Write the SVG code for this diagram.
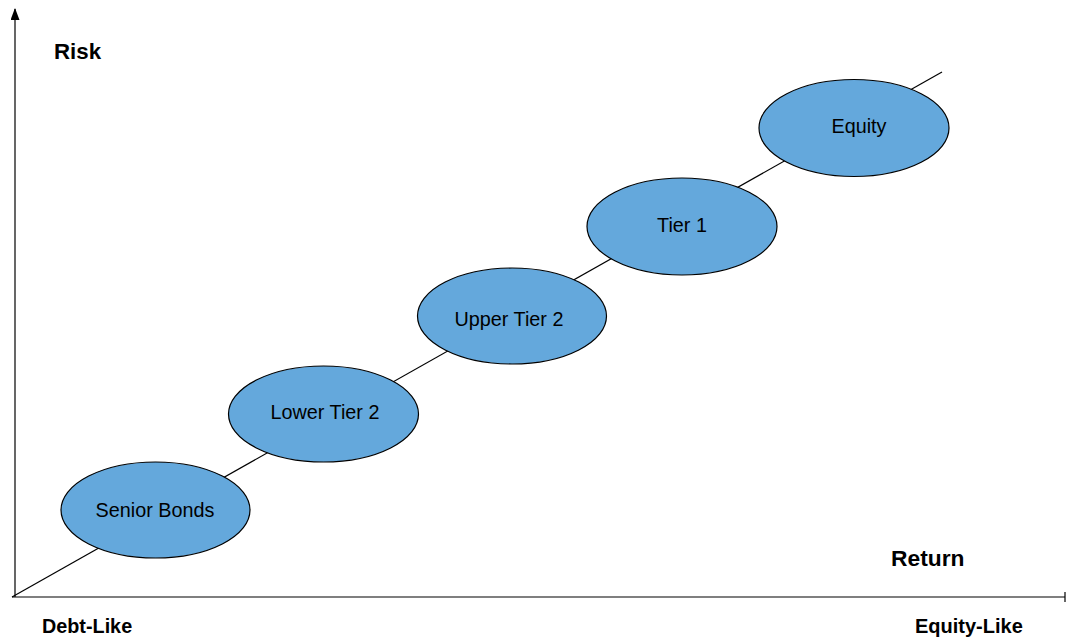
<svg xmlns="http://www.w3.org/2000/svg" width="1066" height="639" viewBox="0 0 1066 639">
<style>
.node ellipse{fill:#64a8dc;stroke:#000;stroke-width:1.2}
.node text{font-family:"Liberation Sans",Arial,sans-serif;font-size:19.8px;fill:#000;text-anchor:middle}
.lbl{font-family:"Liberation Sans",Arial,sans-serif;font-weight:bold;fill:#000}
.ax{stroke:#000;stroke-width:1.2;fill:none}
</style>
<defs>
<marker id="arr" viewBox="0 0 12 9" refX="11" refY="4.5" markerWidth="12" markerHeight="9" markerUnits="userSpaceOnUse" orient="auto">
<path d="M0,0 L12,4.5 L0,9 z" fill="#000"/>
</marker>
</defs>
<rect width="1066" height="639" fill="#fff"/>
<g id="connectors">
<line class="ax" x1="15" y1="597" x2="15" y2="9" marker-end="url(#arr)"/>
<line class="ax" x1="12" y1="597" x2="1065" y2="597"/>
<line class="ax" x1="1065" y1="592" x2="1065" y2="602"/>
<line class="ax" x1="12" y1="597" x2="942" y2="72"/>
</g>
<g id="n-senior" class="node"><ellipse cx="155.5" cy="510" rx="94.5" ry="48"/><text x="155" y="517">Senior Bonds</text></g>
<g id="n-lower" class="node"><ellipse cx="323.5" cy="414" rx="95" ry="48"/><text x="325" y="419">Lower Tier 2</text></g>
<g id="n-upper" class="node"><ellipse cx="512" cy="316" rx="94.5" ry="48"/><text x="509" y="326">Upper Tier 2</text></g>
<g id="n-tier1" class="node"><ellipse cx="682" cy="226.5" rx="95" ry="48.5"/><text x="682" y="232">Tier 1</text></g>
<g id="n-equity" class="node"><ellipse cx="854" cy="128" rx="95" ry="48.5"/><text x="859" y="133">Equity</text></g>
<g id="labels">
<text class="lbl" x="54" y="59" font-size="22.3">Risk</text>
<text class="lbl" x="891" y="566" font-size="22.8">Return</text>
<text class="lbl" x="42" y="633" font-size="19.8">Debt-Like</text>
<text class="lbl" x="915" y="633" font-size="20">Equity-Like</text>
</g>
</svg>
